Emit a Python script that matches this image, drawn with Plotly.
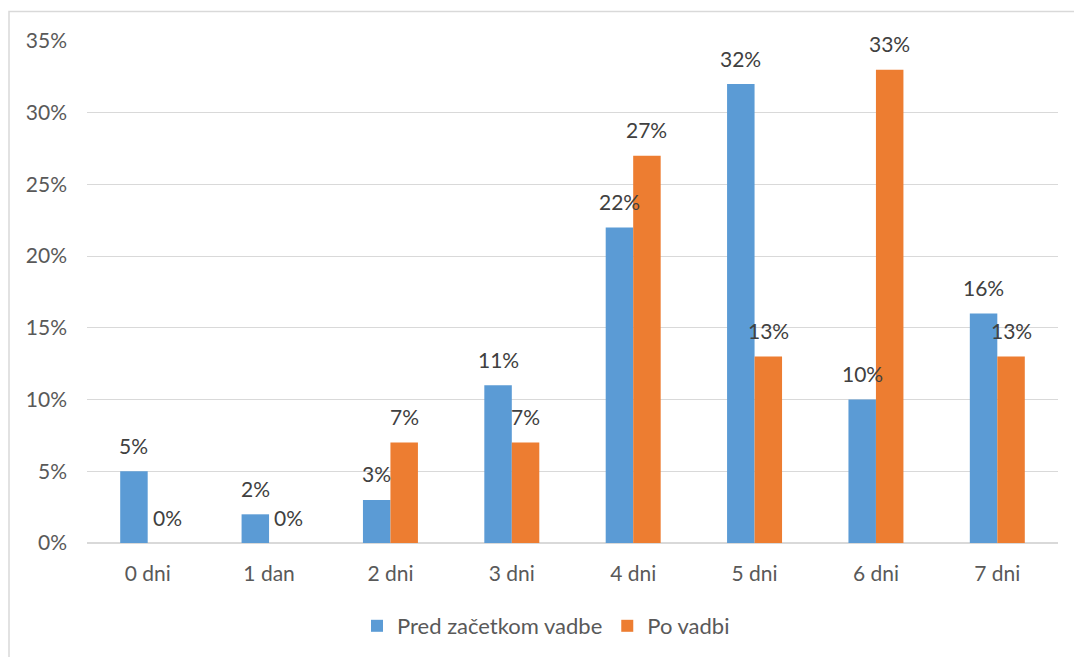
import plotly.graph_objects as go

categories = ["0 dni", "1 dan", "2 dni", "3 dni", "4 dni", "5 dni", "6 dni", "7 dni"]
pred = [0.05, 0.02, 0.03, 0.11, 0.22, 0.32, 0.10, 0.16]
po = [0.00, 0.00, 0.07, 0.07, 0.27, 0.13, 0.33, 0.13]
series_names = ["Pred začetkom vadbe", "Po vadbi"]
colors = ["#5B9BD5", "#ED7D31"]

FONT = "Lato, 'Open Sans', sans-serif"
TXT = "#595959"
FS = 21

W, H = 1074, 657
ml, mr, mt, mb = 87, 16, 41, 114
pw, ph = W - ml - mr, H - mt - mb
bargap = 0.547
bar_px = pw / len(categories) * (1 - bargap) / 2

fig = go.Figure()
annotations = []
for i, (name, vals, col) in enumerate(zip(series_names, [pred, po], colors)):
    fig.add_trace(go.Bar(
        x=categories, y=vals, name=name, marker_color=col,
        marker_line_width=0,
    ))
    shift = (-0.5 if i == 0 else 0.5) * bar_px
    for c, v in zip(categories, vals):
        annotations.append(dict(
            x=c, y=v, xref="x", yref="y", text=f"{round(v*100)}%",
            showarrow=False, xanchor="center", yanchor="middle",
            xshift=shift + (6 if v == 0 else 0), yshift=26,
            font=dict(family=FONT, size=FS, color="#404040"),
        ))

fig.update_layout(
    width=W, height=H,
    margin=dict(l=ml, r=mr, t=mt, b=mb, pad=0, autoexpand=False),
    paper_bgcolor="white", plot_bgcolor="white",
    barmode="group", bargap=bargap, bargroupgap=0,
    font=dict(family=FONT, size=FS, color=TXT),
    showlegend=True,
    legend=dict(orientation="h", x=(546 - ml) / pw, xanchor="center",
                y=-(626 - (mt + ph)) / ph, yanchor="middle",
                font=dict(family=FONT, size=22, color=TXT),
                itemwidth=30, traceorder="normal"),
    xaxis=dict(showgrid=False, showline=False, ticks="", ticklabelstandoff=16,
               automargin=False,
               tickfont=dict(family=FONT, size=FS, color=TXT)),
    yaxis=dict(range=[0, 0.35], dtick=0.05, tickformat=".0%",
               showgrid=True, gridcolor="#D9D9D9", gridwidth=1,
               zeroline=True, zerolinecolor="#D9D9D9", zerolinewidth=1.5,
               showline=False, ticks="", ticklabelstandoff=19,
               automargin=False,
               tickfont=dict(family=FONT, size=FS, color=TXT)),
    annotations=annotations,
    shapes=[dict(type="rect", xref="paper", yref="paper",
                 x0=(9 - ml) / pw, x1=(W + 20 - ml) / pw,
                 y0=-(H + 20 - (mt + ph)) / ph, y1=((mt + ph) - 11.5) / ph,
                 line=dict(color="#D9D9D9", width=1.5), fillcolor="rgba(0,0,0,0)",
                 layer="below")],
)

fig.write_html("out.html")
